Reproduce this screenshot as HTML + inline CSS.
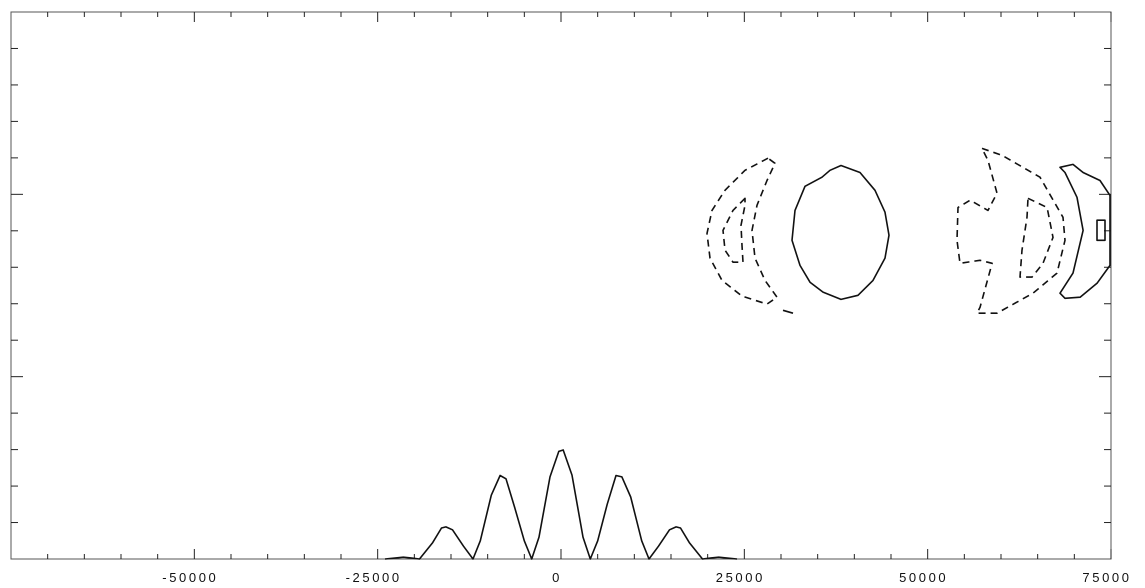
<!DOCTYPE html>
<html><head><meta charset="utf-8"><style>
body{margin:0;background:#fff}
svg{display:block}
text{font-family:"Liberation Sans",sans-serif;font-size:13px;letter-spacing:2.6px;fill:#111}
</style></head><body>
<svg id="chart" width="1145" height="588" viewBox="0 0 1145 588" xmlns="http://www.w3.org/2000/svg"></svg>
<script>
const xTickLabels=["-50000","-25000","0","25000","50000","75000"];
const xTickValues=[-50000,-25000,0,25000,50000,75000];
const profileX=[-24,-22.5,-21.5,-20.5,-19.3,-17.5,-16.3,-15.7,-14.8,-13.3,-12,-11,-9.5,-8.3,-7.5,-6.3,-5,-4,-3,-1.5,-0.3,0.3,1.5,3,4,5,6.3,7.5,8.3,9.5,11,12,13.3,14.8,15.7,16.3,17.5,19.3,20.5,21.5,22.5,24];
const profileY=[0,0.03,0.05,0.03,0,0.45,0.85,0.88,0.8,0.35,0,0.5,1.75,2.29,2.2,1.4,0.5,0,0.6,2.25,2.95,2.99,2.3,0.6,0,0.5,1.5,2.29,2.25,1.7,0.5,0,0.35,0.8,0.88,0.85,0.45,0,0.03,0.05,0.03,0];
const ellipseX=[38.18,40.77,42.82,44.18,44.73,44.18,42.55,40.5,38.18,35.73,33.96,32.59,31.5,31.91,33.27,35.59,36.68];
const ellipseY=[10.79,10.6,10.11,9.51,8.88,8.25,7.64,7.23,7.12,7.32,7.59,8.05,8.74,9.56,10.22,10.47,10.66];
const leftOuterX=[28.23,25.09,22.36,20.59,19.91,20.32,21.96,24.68,28.09,29.46,27.82,26.46,26.05,26.73,28.09,29.18];
const leftOuterY=[10.99,10.66,10.11,9.56,8.93,8.25,7.64,7.21,6.99,7.18,7.64,8.25,9.01,9.7,10.38,10.85];
const leftInnerX=[25.09,23.45,22.09,22.36,23.45,24.82,24.68,24.55,25.09];
const leftInnerY=[9.89,9.56,9.01,8.47,8.14,8.14,8.6,9.15,9.7];
const strayX=[30.27,31.64];
const strayY=[6.82,6.74];
const rightOuterX=[57.41,60.14,65.32,68.46,68.73,67.64,64.37,59.46,56.73,57.14,58.78,57.14,54.41,54,54.14,55.78,58.23,59.46,58.23];
const rightOuterY=[11.26,11.07,10.47,9.37,8.74,7.84,7.29,6.74,6.74,6.9,8.11,8.19,8.11,8.74,9.64,9.84,9.56,10.03,10.93];
const rightInnerX=[63.68,66.28,67.09,65.73,64.23,62.59,62.87,63.55];
const rightInnerY=[9.89,9.64,8.82,8.11,7.73,7.73,8.47,9.37];
const crescentX=[68.05,69.82,71.19,73.5,74.87,74.87,73.09,70.78,68.73,68.05,69.82,71.19,70.37,68.73];
const crescentY=[10.74,10.82,10.6,10.38,9.97,8.05,7.56,7.18,7.15,7.29,7.84,9.01,9.92,10.6];
const rectX=[73.09,74.18,74.18,73.09];
const rectY=[9.29,9.29,8.74,8.74];

const L=11,R=1111,T=12,B=559;
const xs=v=>L+(v+75)*(R-L)/150;
const ys=v=>B-v*(B-T)/15;
const svg=document.getElementById('chart');
const NS='http://www.w3.org/2000/svg';
function mk(tag,attrs){const e=document.createElementNS(NS,tag);for(const k in attrs)e.setAttribute(k,attrs[k]);svg.appendChild(e);return e;}

const frame=mk('rect',{x:L,y:T,width:R-L,height:B-T,fill:'none',stroke:'#555','stroke-width':1});



for(let v=-70;v<=75;v+=5){
  const x=xs(v);const major=(v%25===0);const len=major?10:5;
  const t1=mk('line',{x1:x,x2:x,y1:B,y2:B-len,stroke:'#222','stroke-width':1});
  
  
  const t2=mk('line',{x1:x,x2:x,y1:T,y2:T+len,stroke:'#222','stroke-width':1});
  
  
}
for(let v=1;v<15;v++){
  const y=ys(v);const major=(v%5===0);const len=major?12:7;
  const t1=mk('line',{x1:L,x2:L+len,y1:y,y2:y,stroke:'#222','stroke-width':1});
  
  
  const t2=mk('line',{x1:R,x2:R-len,y1:y,y2:y,stroke:'#222','stroke-width':1});
  
  
}
xTickValues.forEach((v,i)=>{
  const t=mk('text',{x:xs(v/1000)-4,y:582,'text-anchor':'middle'});
  t.textContent=xTickLabels[i];
  
  
});
function line(X,Y,closed,dashed,name){
  let pts=X.map((x,i)=>xs(x).toFixed(1)+','+ys(Y[i]).toFixed(1)).join(' ');
  const e=mk(closed?'polygon':'polyline',{points:pts,fill:'none',stroke:'#111','stroke-width':1.6,'stroke-linejoin':'round','stroke-dasharray':dashed?'7 5':'none'});
  
  
}
line(profileX,profileY,false,false,'profile-curve');
line(ellipseX,ellipseY,true,false,'solid-ellipse-contour');
line(leftOuterX,leftOuterY,true,true,'left-outer-dashed-contour');
line(leftInnerX,leftInnerY,true,true,'left-inner-dashed-contour');
line(strayX,strayY,false,false,'stray-contour-segment');
line(rightOuterX,rightOuterY,true,true,'right-outer-dashed-contour');
line(rightInnerX,rightInnerY,true,true,'right-inner-dashed-contour');
line(crescentX,crescentY,true,false,'right-solid-crescent-contour');
line(rectX,rectY,true,false,'small-rect-contour');
</script>
</body></html>
